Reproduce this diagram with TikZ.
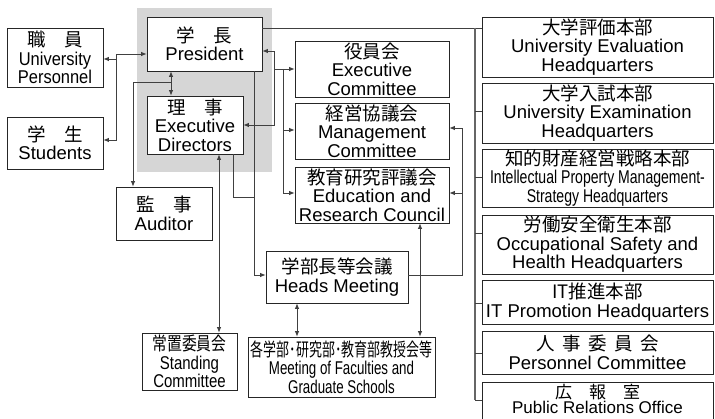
\documentclass[tikz,border=0pt]{standalone}
\usepackage{fontspec}
\usepackage{graphicx}
\setmainfont{Liberation Sans}
\newfontfamily\jp{Noto Sans CJK JP}
\usetikzlibrary{arrows.meta}
\newcommand{\cx}[2]{\scalebox{#1}[1]{#2}}
\begin{document}
\begin{tikzpicture}[x=1pt,y=-1pt,
  box/.style={draw=black!85, line width=0.8pt, fill=white, align=center, inner sep=0pt,
    font=\fontsize{18.5}{18.5}\selectfont},
  boxtext/.style={align=center, inner sep=0pt, font=\fontsize{17}{15}\selectfont},
  ln/.style={draw=black!75, line width=0.8pt},
  arr/.style={ln, -{Latex[length=5.5pt,width=4.5pt]}},
  darr/.style={ln, {Latex[length=5.5pt,width=4.5pt]}-{Latex[length=5.5pt,width=4.5pt]}},
  rail/.style={draw=black!60, line width=1.5pt}]
\useasboundingbox (0,0) rectangle (715,419);
\clip (0,0) rectangle (715,419);
\fill[white] (0,0) rectangle (715,419);
% gray background
\fill[black!16] (137,8) rectangle (272,172);

% left boxes
\node[box, minimum width=115pt, minimum height=54pt] (pres) at (204.5,44) {{\jp 学　長}\\President};
\node[box, minimum width=96pt, minimum height=58pt] (ed) at (195,125) {{\jp 理　事}\\Executive\\Directors};
\node[box, minimum width=96pt, minimum height=59pt] (pers) at (55,57.5) {{\jp 職　員}\\\cx{0.89}{University}\\\cx{0.89}{Personnel}};
\node[box, minimum width=96pt, minimum height=52pt] (stu) at (55,143) {{\jp 学　生}\\Students};
\node[box, minimum width=96pt, minimum height=53pt] (aud) at (164,213.5) {{\jp 監　事}\\Auditor};

% middle boxes
\node[box, minimum width=154pt, minimum height=56pt] (exc) at (372,69) {{\jp 役員会}\\Executive\\Committee};
\node[box, minimum width=154pt, minimum height=56pt] (mgt) at (372,131) {{\jp 経営協議会}\\Management\\Committee};
\node[box, minimum width=154pt, minimum height=56pt] (edu) at (372,195) {{\jp 教育研究評議会}\\Education and\\Research Council};
\node[box, minimum width=142pt, minimum height=52pt] (heads) at (337,277) {{\jp 学部長等会議}\\Heads Meeting};
\node[box, minimum width=95pt, minimum height=57pt] (stand) at (189.5,361.5) {\cx{0.8}{\jp 常置委員会}\\\cx{0.81}{Standing}\\\cx{0.81}{Committee}};
\node[box, minimum width=187pt, minimum height=60pt] (fac) at (341.5,367) {\cx{0.7}{\jp 各学部･研究部･教育部教授会等}\\\cx{0.72}{Meeting of Faculties and}\\\cx{0.72}{Graduate Schools}};

% right boxes
\node[box, minimum width=231pt, minimum height=60pt] (r1) at (597.5,47) {{\jp 大学評価本部}\\University Evaluation\\Headquarters};
\node[box, minimum width=231pt, minimum height=60pt] (r2) at (597.5,113) {{\jp 大学入試本部}\\University Examination\\Headquarters};
\node[box, minimum width=231pt, minimum height=58pt] (r3) at (597.5,178) {{\jp 知的財産経営戦略本部}\\\cx{0.76}{Intellectual Property Management-}\\\cx{0.76}{Strategy Headquarters}};
\node[box, minimum width=231pt, minimum height=59pt] (r4) at (597.5,244.5) {{\jp 労働安全衛生本部}\\Occupational Safety and\\Health Headquarters};
\node[box, minimum width=231pt, minimum height=44pt] (r5) at (597.5,302) {{\jp IT推進本部}\\IT Promotion Headquarters};
\node[box, minimum width=231pt, minimum height=43pt] (r6) at (597.5,352.5) {{\jp 人\hspace{.4em}事\hspace{.4em}委\hspace{.4em}員\hspace{.4em}会}\\Personnel Committee};
\node[box, minimum width=231pt, minimum height=44pt] (r7) at (597.5,404) {};
\node[boxtext] (r7t) at (597.5,399) {{\jp 広　報　室}\\Public Relations Office};

% junction coordinates
\coordinate (jl) at (116,54);
\coordinate (jlp) at (116,59);
\coordinate (jls) at (116,140);
\coordinate (jv) at (171,82);
\coordinate (ja) at (133,82);
\coordinate (jr) at (475,28);
\coordinate (jrb) at (475,400);
\coordinate (jp1) at (274,51);
\coordinate (jp2) at (274,125);
\coordinate (jp3) at (274,69);
\coordinate (jc1) at (283,69);
\coordinate (jc2) at (283,130);
\coordinate (jc3) at (283,193);
\coordinate (jd1) at (254,275);
\coordinate (jd2) at (254,197);
\coordinate (je1) at (233,197);
\coordinate (jh1) at (462,275);
\coordinate (jh2) at (462,128);
\coordinate (jh3) at (462,193);

% President - personnel / students
\draw[darr] (pres.west |- jl) -- (jl) -- (jls) -- (stu.east |- jls);
\draw[arr] (jlp) -- (pers.east |- jlp);
% President - Executive Directors
\draw[darr] (pres.south -| jv) -- (ed.north -| jv);
\draw[arr] (jv) -- (ja) -- (aud.north -| ja);
% President - right column
\draw[ln] (pres.east |- jr) -- (r1.west |- jr);
\draw[rail] (jr) -- (jrb);
\foreach \r/\yy in {r2/111, r3/177, r4/233, r5/303, r6/353, r7/400}
  \draw[ln] (475,\yy) -- (\r.west |- 0,\yy);
% President / ED - Heads Meeting
\draw[arr] (pres.south -| jd1) -- (jd1) -- (heads.west |- jd1);
\draw[ln] (ed.south -| je1) -- (je1) -- (jd2);
% President - ED - committees
\draw[darr] (pres.east |- jp1) -- (jp1) -- (jp2) -- (ed.east |- jp2);
\draw[arr] (jp3) -- (exc.west |- jp3);
\draw[arr] (jc1) -- (jc3) -- (edu.west |- jc3);
\draw[arr] (jc2) -- (mgt.west |- jc2);
% Heads Meeting - councils
\draw[arr] (heads.east |- jh1) -- (jh1) -- (jh2) -- (mgt.east |- jh2);
\draw[arr] (jh3) -- (edu.east |- jh3);
% lower double arrows
\draw[darr] (heads.south -| 297,0) -- (fac.north -| 297,0);
\draw[darr] (edu.south -| 420,0) -- (fac.north -| 420,0);
\draw[darr] (ed.south -| 219,0) -- (stand.north -| 219,0);
\end{tikzpicture}
\end{document}
